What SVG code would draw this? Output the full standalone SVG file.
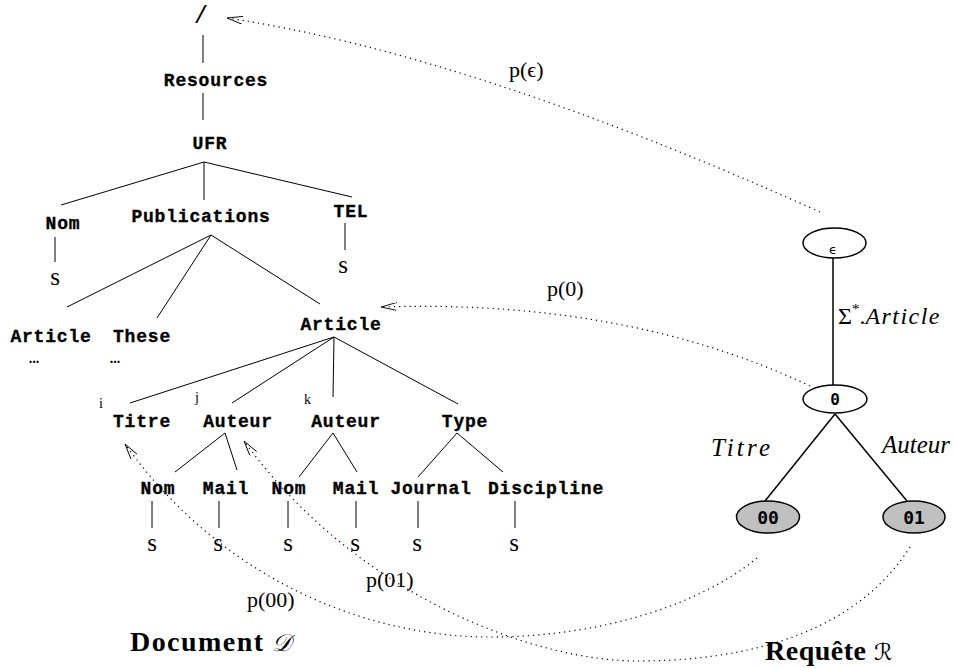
<svg xmlns="http://www.w3.org/2000/svg" width="956" height="668" viewBox="0 0 956 668">
<defs>
<marker id="arr" viewBox="0 0 16 8" refX="16" refY="4" markerWidth="16" markerHeight="8" markerUnits="userSpaceOnUse" orient="auto">
<path d="M0,0 L16,4 L0,8" fill="none" stroke="#000" stroke-width="0.9"/>
</marker>
<style>
.tag{font-family:"Liberation Mono",monospace;font-weight:bold;font-size:18px;letter-spacing:0.8px;text-anchor:middle;fill:#000;stroke:#000;stroke-width:0.35px}
.s{font-family:"Liberation Serif",serif;font-size:25px;text-anchor:middle;fill:#000}
.idx{font-family:"Liberation Serif",serif;font-size:14px;fill:#000}
.lbl{font-family:"Liberation Serif",serif;font-size:22px;fill:#000}
.it{font-family:"Liberation Serif",serif;font-style:italic;font-size:25px;fill:#000}
.ttl{font-family:"Liberation Serif",serif;font-weight:bold;font-size:28px;fill:#000}
.num{font-family:"DejaVu Sans Mono",monospace;font-weight:bold;text-anchor:middle;fill:#000}
.edge{stroke:#000;stroke-width:1;fill:none}
.dot{stroke:#000;stroke-width:1.2;fill:none;stroke-dasharray:1.2 4;marker-end:url(#arr)}
.qn{stroke:#000;stroke-width:1.5}
</style>
</defs>

<g id="tree-edges">
<line class="edge" x1="203" y1="35" x2="203" y2="63"/>
<line class="edge" x1="203" y1="93" x2="203" y2="120"/>
<line class="edge" x1="204" y1="162" x2="61" y2="205"/>
<line class="edge" x1="204" y1="162" x2="204" y2="200"/>
<line class="edge" x1="204" y1="162" x2="352" y2="197"/>
<line class="edge" x1="55" y1="237" x2="55" y2="262"/>
<line class="edge" x1="345" y1="223" x2="345" y2="250"/>
<line class="edge" x1="211" y1="235" x2="67" y2="307"/>
<line class="edge" x1="211" y1="235" x2="157" y2="318"/>
<line class="edge" x1="211" y1="235" x2="320" y2="304"/>
<line class="edge" x1="334" y1="337" x2="130" y2="403"/>
<line class="edge" x1="334" y1="337" x2="232" y2="403"/>
<line class="edge" x1="334" y1="337" x2="333" y2="397"/>
<line class="edge" x1="334" y1="337" x2="458" y2="404"/>
<line class="edge" x1="225" y1="433" x2="175" y2="472"/>
<line class="edge" x1="225" y1="433" x2="237" y2="470"/>
<line class="edge" x1="333" y1="433" x2="299" y2="477"/>
<line class="edge" x1="333" y1="433" x2="357" y2="472"/>
<line class="edge" x1="457" y1="433" x2="418" y2="477"/>
<line class="edge" x1="457" y1="433" x2="503" y2="472"/>
<line class="edge" x1="152" y1="501" x2="152" y2="528"/>
<line class="edge" x1="219" y1="501" x2="219" y2="528"/>
<line class="edge" x1="288" y1="501" x2="288" y2="528"/>
<line class="edge" x1="356" y1="501" x2="356" y2="528"/>
<line class="edge" x1="418" y1="501" x2="418" y2="528"/>
<line class="edge" x1="515" y1="501" x2="515" y2="528"/>
</g>

<g id="n-root"><text x="201" y="23" style="font-family:'Liberation Mono',monospace;font-size:24px;text-anchor:middle">/</text></g>
<g id="n-resources"><text class="tag" x="216" y="86">Resources</text></g>
<g id="n-ufr"><text class="tag" x="210" y="149">UFR</text></g>
<g id="n-nom0"><text class="tag" x="63" y="229">Nom</text><text class="s" x="55" y="285">s</text></g>
<g id="n-publications"><text class="tag" x="201" y="222">Publications</text></g>
<g id="n-tel"><text class="tag" x="351" y="217">TEL</text><text class="s" x="343" y="273">s</text></g>
<g id="n-article1"><text class="tag" x="51" y="342">Article</text><text class="idx" x="34" y="363" text-anchor="middle" style="font-weight:bold">...</text></g>
<g id="n-these"><text class="tag" x="142" y="342">These</text><text class="idx" x="115" y="363" text-anchor="middle" style="font-weight:bold">...</text></g>
<g id="n-article2"><text class="tag" x="341" y="330">Article</text></g>
<g id="n-titre"><text class="idx" x="99" y="408">i</text><text class="tag" x="142" y="427">Titre</text></g>
<g id="n-auteur1"><text class="idx" x="195" y="402">j</text><text class="tag" x="238" y="427">Auteur</text></g>
<g id="n-auteur2"><text class="idx" x="304" y="404">k</text><text class="tag" x="346" y="427">Auteur</text></g>
<g id="n-type"><text class="tag" x="465" y="427">Type</text></g>
<g id="n-nom1"><text class="tag" x="158" y="494">Nom</text><text class="s" x="152" y="551">s</text></g>
<g id="n-mail1"><text class="tag" x="226" y="494">Mail</text><text class="s" x="218" y="551">s</text></g>
<g id="n-nom2"><text class="tag" x="289" y="494">Nom</text><text class="s" x="288" y="551">s</text></g>
<g id="n-mail2"><text class="tag" x="356" y="494">Mail</text><text class="s" x="355" y="551">s</text></g>
<g id="n-journal"><text class="tag" x="431" y="494">Journal</text><text class="s" x="417" y="551">s</text></g>
<g id="n-discipline"><text class="tag" x="546" y="494">Discipline</text><text class="s" x="514" y="551">s</text></g>

<g id="query-edges">
<line class="qn" x1="833" y1="258" x2="833" y2="385"/>
<line class="qn" x1="835" y1="414" x2="765" y2="501"/>
<line class="qn" x1="835" y1="414" x2="907" y2="501"/>
</g>
<g id="q-eps"><ellipse class="qn" cx="834.5" cy="243" rx="31.5" ry="15" fill="#fff"/><text x="833" y="254" style="font-family:'DejaVu Sans',sans-serif;font-size:13px;text-anchor:middle">ϵ</text></g>
<g id="q-0"><ellipse class="qn" cx="835" cy="399" rx="32" ry="14" fill="#fff"/><text class="num" x="835" y="405" font-size="16">0</text></g>
<g id="q-00"><ellipse class="qn" cx="768" cy="517" rx="31.5" ry="16" fill="#c0c0c0"/><text class="num" x="768" y="524" font-size="18">00</text></g>
<g id="q-01"><ellipse class="qn" cx="914" cy="517" rx="31" ry="16" fill="#c0c0c0"/><text class="num" x="914" y="524" font-size="18">01</text></g>
<g id="q-labels">
<text class="lbl" x="838" y="324" style="font-size:24px">Σ<tspan dy="-10" font-size="15">*</tspan><tspan dy="10">.</tspan><tspan font-style="italic" textLength="74" lengthAdjust="spacing">Article</tspan></text>
<text class="it" x="711" y="456" textLength="59" lengthAdjust="spacing">Titre</text>
<text class="it" x="882" y="453" textLength="68" lengthAdjust="spacing">Auteur</text>
</g>

<g id="connectors">
<path class="dot" d="M820,212 Q469,54 227,18"/>
<path class="dot" d="M810,386 Q626,299 381,307"/>
<path class="dot" d="M757,558 C700,605 600,637 490,637 C380,637 230,590 125,444"/>
<path class="dot" d="M910,547 C870,610 790,660 640,661 C540,662 360,600 244,441"/>
<text class="lbl" x="509" y="77">p(ϵ)</text>
<text class="lbl" x="547" y="296">p(0)</text>
<text class="lbl" x="366" y="587">p(01)</text>
<text class="lbl" x="247" y="607">p(00)</text>
</g>

<g id="captions">
<text class="ttl" x="130" y="651" textLength="133" lengthAdjust="spacing">Document</text>
<text x="272" y="651" style="font-family:'DejaVu Serif','DejaVu Sans',serif;font-style:italic;font-size:24px">𝒟</text>
<text class="ttl" x="765" y="660" textLength="101" lengthAdjust="spacing">Requête</text>
<text x="874" y="660" style="font-family:'DejaVu Serif','DejaVu Sans',serif;font-style:italic;font-size:23px">ℛ</text>
</g>
</svg>
